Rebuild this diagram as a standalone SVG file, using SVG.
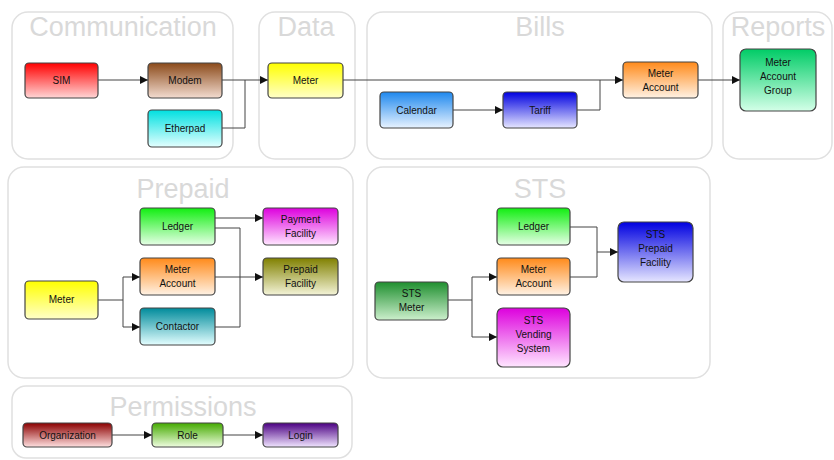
<svg xmlns="http://www.w3.org/2000/svg" width="834" height="460" viewBox="0 0 834 460">
<defs>
<style>
.grp{fill:#fff;stroke:#e0e0e0;stroke-width:1.5}
.title{font-family:"Liberation Sans",Arial,sans-serif;font-size:27px;fill:#d9d9d9;text-anchor:middle}
.node rect{stroke:#444;stroke-width:1.2}
.lbl{font-family:"Liberation Sans",Arial,sans-serif;font-size:10px;fill:#111;text-anchor:middle}
.conn{fill:none;stroke:#444;stroke-width:1;marker-end:url(#arr)}
.conn2{fill:none;stroke:#444;stroke-width:1}
</style>
<marker id="arr" viewBox="0 0 8 8" refX="8" refY="4" markerWidth="8" markerHeight="8" markerUnits="userSpaceOnUse" orient="auto"><path d="M0,0 L8,4 L0,8 z" fill="#111"/></marker>
<linearGradient id="gRed" x1="0" y1="0" x2="0" y2="1"><stop offset="0" stop-color="#ff0000"/><stop offset="1" stop-color="#ffd6d6"/></linearGradient>
<linearGradient id="gBrown" x1="0" y1="0" x2="0" y2="1"><stop offset="0" stop-color="#8b4a1a"/><stop offset="1" stop-color="#f3dcd0"/></linearGradient>
<linearGradient id="gCyan" x1="0" y1="0" x2="0" y2="1"><stop offset="0" stop-color="#00e0e0"/><stop offset="1" stop-color="#e4ffff"/></linearGradient>
<linearGradient id="gYellow" x1="0" y1="0" x2="0" y2="1"><stop offset="0" stop-color="#ffff00"/><stop offset="1" stop-color="#ffffc8"/></linearGradient>
<linearGradient id="gCal" x1="0" y1="0" x2="0" y2="1"><stop offset="0" stop-color="#1e88ee"/><stop offset="1" stop-color="#e8f3ff"/></linearGradient>
<linearGradient id="gBlue" x1="0" y1="0" x2="0" y2="1"><stop offset="0" stop-color="#0000e0"/><stop offset="1" stop-color="#e6e6ff"/></linearGradient>
<linearGradient id="gOrange" x1="0" y1="0" x2="0" y2="1"><stop offset="0" stop-color="#ff8a1a"/><stop offset="1" stop-color="#fff2e4"/></linearGradient>
<linearGradient id="gMint" x1="0" y1="0" x2="0" y2="1"><stop offset="0" stop-color="#00cc66"/><stop offset="1" stop-color="#d4ffe8"/></linearGradient>
<linearGradient id="gGreen" x1="0" y1="0" x2="0" y2="1"><stop offset="0" stop-color="#11ee11"/><stop offset="1" stop-color="#e6ffe6"/></linearGradient>
<linearGradient id="gMag" x1="0" y1="0" x2="0" y2="1"><stop offset="0" stop-color="#dd00dd"/><stop offset="1" stop-color="#ffe6ff"/></linearGradient>
<linearGradient id="gOlive" x1="0" y1="0" x2="0" y2="1"><stop offset="0" stop-color="#808000"/><stop offset="1" stop-color="#f4f4d8"/></linearGradient>
<linearGradient id="gTeal" x1="0" y1="0" x2="0" y2="1"><stop offset="0" stop-color="#008b9b"/><stop offset="1" stop-color="#e4feff"/></linearGradient>
<linearGradient id="gDkGreen" x1="0" y1="0" x2="0" y2="1"><stop offset="0" stop-color="#1f8f2f"/><stop offset="1" stop-color="#ccefcc"/></linearGradient>
<linearGradient id="gDkRed" x1="0" y1="0" x2="0" y2="1"><stop offset="0" stop-color="#8b0000"/><stop offset="1" stop-color="#ffe0e0"/></linearGradient>
<linearGradient id="gLeaf" x1="0" y1="0" x2="0" y2="1"><stop offset="0" stop-color="#44aa00"/><stop offset="1" stop-color="#effde0"/></linearGradient>
<linearGradient id="gPurple" x1="0" y1="0" x2="0" y2="1"><stop offset="0" stop-color="#4b0082"/><stop offset="1" stop-color="#f0e4ff"/></linearGradient>
</defs>
<rect width="834" height="460" fill="#fff"/>

<g id="groups">
<g id="grp-communication"><rect class="grp" x="12" y="12" width="221" height="147" rx="16"/><text class="title" x="123" y="36">Communication</text></g>
<g id="grp-data"><rect class="grp" x="259" y="12" width="96" height="147" rx="16"/><text class="title" x="306" y="36">Data</text></g>
<g id="grp-bills"><rect class="grp" x="367" y="12" width="345" height="147" rx="16"/><text class="title" x="540" y="36">Bills</text></g>
<g id="grp-reports"><rect class="grp" x="723" y="12" width="109" height="147" rx="16"/><text class="title" x="778" y="36">Reports</text></g>
<g id="grp-prepaid"><rect class="grp" x="8" y="167" width="345" height="211" rx="16"/><text class="title" x="183" y="198">Prepaid</text></g>
<g id="grp-sts"><rect class="grp" x="367" y="167" width="343" height="211" rx="16"/><text class="title" x="540" y="198">STS</text></g>
<g id="grp-permissions"><rect class="grp" x="12" y="386" width="340" height="72" rx="14"/><text class="title" x="183" y="416">Permissions</text></g>
</g>

<g id="connectors">
<path class="conn" d="M98,80 H148"/>
<path class="conn" d="M222,80 H268"/>
<path class="conn2" d="M222,128 H245 V80"/>
<path class="conn" d="M343,80 H623"/>
<path class="conn" d="M453,110 H503"/>
<path class="conn2" d="M577,110 H600 V80"/>
<path class="conn" d="M698,80 H740"/>

<path class="conn2" d="M98,300 H123"/>
<path class="conn" d="M123,300 V277 H140"/>
<path class="conn" d="M123,300 V327 H140"/>
<path class="conn" d="M215,218 H263"/>
<path class="conn2" d="M215,228 H240 V327 H215" stroke="#666"/>
<path class="conn" d="M215,277 H263"/>

<path class="conn2" d="M448,300 H472"/>
<path class="conn" d="M472,300 V277 H497"/>
<path class="conn" d="M472,300 V337 H497"/>
<path class="conn2" d="M570,227 H597 V277 H570"/>
<path class="conn" d="M597,252 H618"/>

<path class="conn" d="M112,435 H152"/>
<path class="conn" d="M223,435 H263"/>
</g>

<g id="n-sim" class="node"><rect x="25" y="63" width="73" height="35" rx="4" fill="url(#gRed)"/><text class="lbl" x="61.5" y="84">SIM</text></g>
<g id="n-modem" class="node"><rect x="148" y="63" width="74" height="35" rx="4" fill="url(#gBrown)"/><text class="lbl" x="185" y="84">Modem</text></g>
<g id="n-etherpad" class="node"><rect x="148" y="110" width="74" height="37" rx="4" fill="url(#gCyan)"/><text class="lbl" x="185" y="132">Etherpad</text></g>
<g id="n-meter" class="node"><rect x="268" y="63" width="75" height="35" rx="4" fill="url(#gYellow)"/><text class="lbl" x="305.5" y="84">Meter</text></g>
<g id="n-calendar" class="node"><rect x="380" y="92" width="73" height="36" rx="4" fill="url(#gCal)"/><text class="lbl" x="416.5" y="114">Calendar</text></g>
<g id="n-tariff" class="node"><rect x="503" y="92" width="74" height="36" rx="4" fill="url(#gBlue)"/><text class="lbl" x="540" y="114">Tariff</text></g>
<g id="n-bills-meteraccount" class="node"><rect x="623" y="62" width="75" height="36" rx="4" fill="url(#gOrange)"/><text class="lbl" x="660.5" y="77">Meter</text><text class="lbl" x="660.5" y="91">Account</text></g>
<g id="n-metaccgroup" class="node"><rect x="740" y="49" width="76" height="62" rx="6" fill="url(#gMint)"/><text class="lbl" x="778" y="66">Meter</text><text class="lbl" x="778" y="80">Account</text><text class="lbl" x="778" y="94">Group</text></g>

<g id="n-pp-ledger" class="node"><rect x="140" y="208" width="75" height="37" rx="4" fill="url(#gGreen)"/><text class="lbl" x="177.5" y="230">Ledger</text></g>
<g id="n-pp-payment" class="node"><rect x="263" y="208" width="75" height="37" rx="4" fill="url(#gMag)"/><text class="lbl" x="300.5" y="223">Payment</text><text class="lbl" x="300.5" y="237">Facility</text></g>
<g id="n-pp-meteraccount" class="node"><rect x="140" y="258" width="75" height="37" rx="4" fill="url(#gOrange)"/><text class="lbl" x="177.5" y="273">Meter</text><text class="lbl" x="177.5" y="287">Account</text></g>
<g id="n-pp-prepaid" class="node"><rect x="263" y="258" width="75" height="37" rx="4" fill="url(#gOlive)"/><text class="lbl" x="300.5" y="273">Prepaid</text><text class="lbl" x="300.5" y="287">Facility</text></g>
<g id="n-pp-meter" class="node"><rect x="25" y="281" width="73" height="38" rx="4" fill="url(#gYellow)"/><text class="lbl" x="61.5" y="303">Meter</text></g>
<g id="n-pp-contactor" class="node"><rect x="140" y="308" width="75" height="37" rx="4" fill="url(#gTeal)"/><text class="lbl" x="177.5" y="330">Contactor</text></g>

<g id="n-sts-ledger" class="node"><rect x="497" y="208" width="73" height="37" rx="4" fill="url(#gGreen)"/><text class="lbl" x="533.5" y="230">Ledger</text></g>
<g id="n-sts-meteraccount" class="node"><rect x="497" y="258" width="73" height="37" rx="4" fill="url(#gOrange)"/><text class="lbl" x="533.5" y="273">Meter</text><text class="lbl" x="533.5" y="287">Account</text></g>
<g id="n-sts-vending" class="node"><rect x="497" y="308" width="73" height="59" rx="6" fill="url(#gMag)"/><text class="lbl" x="533.5" y="324">STS</text><text class="lbl" x="533.5" y="338">Vending</text><text class="lbl" x="533.5" y="352">System</text></g>
<g id="n-sts-prepaid" class="node"><rect x="618" y="222" width="75" height="60" rx="6" fill="url(#gBlue)"/><text class="lbl" x="655.5" y="238">STS</text><text class="lbl" x="655.5" y="252">Prepaid</text><text class="lbl" x="655.5" y="266">Facility</text></g>
<g id="n-sts-meter" class="node"><rect x="375" y="282" width="73" height="38" rx="4" fill="url(#gDkGreen)"/><text class="lbl" x="411.5" y="297">STS</text><text class="lbl" x="411.5" y="311">Meter</text></g>

<g id="n-organization" class="node"><rect x="23" y="423" width="89" height="24" rx="4" fill="url(#gDkRed)"/><text class="lbl" x="67.5" y="439">Organization</text></g>
<g id="n-role" class="node"><rect x="152" y="423" width="71" height="24" rx="4" fill="url(#gLeaf)"/><text class="lbl" x="187.5" y="439">Role</text></g>
<g id="n-login" class="node"><rect x="263" y="423" width="75" height="24" rx="4" fill="url(#gPurple)"/><text class="lbl" x="300.5" y="439">Login</text></g>
</svg>
